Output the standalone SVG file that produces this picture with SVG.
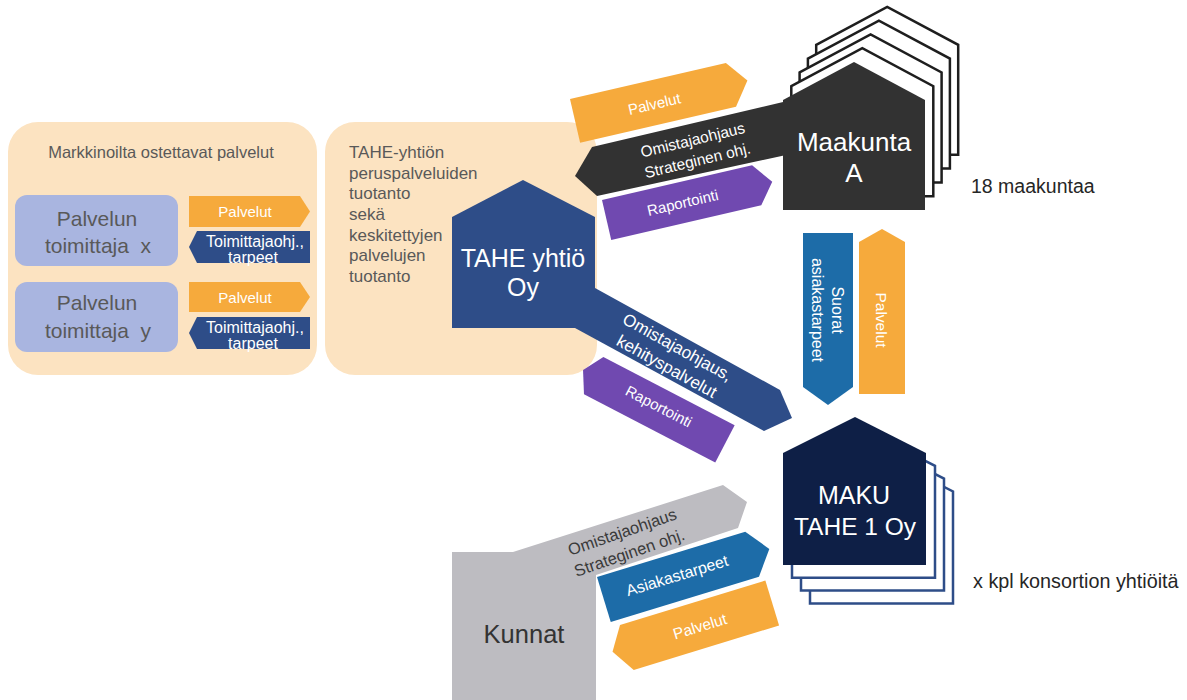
<svg xmlns="http://www.w3.org/2000/svg" width="1187" height="700" viewBox="0 0 1187 700">
<style>
text{font-family:"Liberation Sans",Arial,sans-serif;}
.peach{fill:#FCE3C1;}
.lav{fill:#A9B5E0;}
.org{fill:#F6AA3C;}
.navy{fill:#2E4D88;}
.pur{fill:#7049B0;}
.blk{fill:#323232;}
.blu{fill:#1D6CA8;}
.gry{fill:#BDBCC1;}
.dk{fill:#0E1F46;}
.w{fill:#FFFFFF;}
.g{fill:#595959;}
.mid{text-anchor:middle;}
.ol{fill:#FFFFFF;stroke:#1E1E1E;stroke-width:2.5;}
.olb{fill:#FFFFFF;stroke:#2E4D88;stroke-width:2.5;}
</style>

<g id="market-box">
<rect class="peach" x="8" y="122" width="309" height="253" rx="30"/>
<text class="g mid" x="161" y="158" font-size="16.5">Markkinoilta ostettavat palvelut</text>
</g>
<g id="supplier-x">
<rect class="lav" x="15" y="195" width="163" height="71" rx="12"/>
<text class="g mid" x="97" y="225.5" font-size="21">Palvelun</text>
<text class="g mid" x="98" y="252.5" font-size="21" xml:space="preserve">toimittaja  x</text>
</g>
<g id="supplier-y">
<rect class="lav" x="15" y="282" width="163" height="70" rx="12"/>
<text class="g mid" x="97" y="309.5" font-size="21">Palvelun</text>
<text class="g mid" x="98" y="337.5" font-size="21" xml:space="preserve">toimittaja  y</text>
</g>
<g id="tahe-box">
<rect class="peach" x="325" y="122" width="272" height="253" rx="30"/>
<g class="g" font-size="17">
<text x="349" y="158">TAHE-yhtiön</text>
<text x="349" y="179">peruspalveluiden</text>
<text x="349" y="199">tuotanto</text>
<text x="349" y="220">sekä</text>
<text x="349" y="241">keskitettyjen</text>
<text x="349" y="261">palvelujen</text>
<text x="349" y="282">tuotanto</text>
</g>
</g>

<g id="connectors">
<g id="c-palvelut-x">
<polygon class="org" points="189,196 300,196 310,211.5 300,227 189,227"/>
<text class="w mid" x="245" y="217" font-size="15">Palvelut</text>
</g>
<g id="c-toim-x">
<polygon class="navy" points="197,231 310,231 310,263 197,263 189,247"/>
<text class="w mid" x="255" y="247" font-size="16">Toimittajaohj.,</text>
<text class="w mid" x="253" y="262.5" font-size="16">tarpeet</text>
</g>
<g id="c-palvelut-y">
<polygon class="org" points="189,282 300,282 310,297 300,312 189,312"/>
<text class="w mid" x="245" y="302.5" font-size="15">Palvelut</text>
</g>
<g id="c-toim-y">
<polygon class="navy" points="197,317 310,317 310,349 197,349 189,333"/>
<text class="w mid" x="255" y="333" font-size="16">Toimittajaohj.,</text>
<text class="w mid" x="253" y="348.5" font-size="16">tarpeet</text>
</g>

<g id="c-palvelut-maakunta" transform="translate(570,99) rotate(-13)">
<polygon class="org" points="0,0 160,0 177,22 160,45 0,45"/>
<text class="w mid" x="81" y="29" font-size="15">Palvelut</text>
</g>
<g id="c-omistaja-maakunta">
<polygon class="blk" points="575,176 592,147 800,98 800,152 597,196"/>
<g transform="translate(695,150) rotate(-13.5)">
<text class="w mid" x="0" y="-5" font-size="15.5">Omistajaohjaus</text>
<text class="w mid" x="0" y="16" font-size="15.5">Strateginen ohj.</text>
</g>
</g>
<g id="c-raportointi-maakunta" transform="translate(602,200) rotate(-13)">
<polygon class="pur" points="0,0 154,0 170,20.5 154,41 0,41"/>
<text class="w mid" x="78" y="26" font-size="15">Raportointi</text>
</g>

<g id="c-omistaja-maku">
<polygon class="navy" points="595,288 780,390 792,418 764,431 575,328"/>
<g transform="translate(672,357) rotate(29)">
<text class="w mid" x="0" y="-5.5" font-size="17">Omistajaohjaus,</text>
<text class="w mid" x="0" y="16.5" font-size="17">kehityspalvelut</text>
</g>
</g>
<g id="c-raportointi-maku" transform="translate(654,407) rotate(27.5)">
<polygon class="pur" points="-68,-21 80,-21 80,21 -68,21 -80,0"/>
<text class="w mid" x="4" y="2.5" font-size="15">Raportointi</text>
</g>

<g id="c-suorat">
<polygon class="blu" points="803,233 853,233 853,387 828,405 803,387"/>
<text class="w mid" transform="translate(837,310) rotate(90)" y="5.5" font-size="16">Suorat</text>
<text class="w mid" transform="translate(817,310) rotate(90)" y="5.5" font-size="16">asiakastarpeet</text>
</g>
<g id="c-palvelut-vert">
<polygon class="org" points="859,394 905,394 905,242 882,229 859,242"/>
<text class="w mid" transform="translate(881,320) rotate(90)" y="5.5" font-size="15.5">Palvelut</text>
</g>

<g id="c-asiakastarpeet" transform="translate(597,577) rotate(-17)">
<polygon class="blu" points="0,0 155,0 173,23.5 155,47 0,47"/>
<text class="w mid" x="77" y="27.5" font-size="16">Asiakastarpeet</text>
</g>
<g id="c-palvelut-kunnat" transform="translate(620,625) rotate(-17)">
<polygon class="org" points="0,0 152,0 152,47 0,47 -15,23.5"/>
<text class="w mid" x="76" y="30" font-size="15.5">Palvelut</text>
</g>
</g>

<g id="tahe-house">
<polygon class="navy" points="452,217 523,180 595,217 595,328 452,328"/>
<text class="w mid" x="523" y="267" font-size="25">TAHE yhtiö</text>
<text class="w mid" x="523" y="296" font-size="25">Oy</text>
</g>

<g id="maakunta">
<polygon class="ol" transform="translate(33.2,-55.2)" points="783,100 854,62 925,100 925,210 783,210"/>
<polygon class="ol" transform="translate(24.9,-41.4)" points="783,100 854,62 925,100 925,210 783,210"/>
<polygon class="ol" transform="translate(16.6,-27.6)" points="783,100 854,62 925,100 925,210 783,210"/>
<polygon class="ol" transform="translate(8.3,-13.8)" points="783,100 854,62 925,100 925,210 783,210"/>
<polygon class="blk" points="783,100 854,62 925,100 925,210 783,210"/>
<text class="w mid" x="854" y="151" font-size="26">Maakunta</text>
<text class="w mid" x="854" y="182" font-size="26">A</text>
</g>

<g id="maku">
<polygon class="olb" transform="translate(27,38.4)" points="783,453 855,417 926,453 926,565 783,565"/>
<polygon class="olb" transform="translate(18,25.6)" points="783,453 855,417 926,453 926,565 783,565"/>
<polygon class="olb" transform="translate(9,12.8)" points="783,453 855,417 926,453 926,565 783,565"/>
<polygon class="dk" points="783,453 855,417 926,453 926,565 783,565"/>
<text class="w mid" x="854" y="504" font-size="25">MAKU</text>
<text class="w mid" x="855" y="535" font-size="24.5">TAHE 1 Oy</text>
</g>

<g id="kunnat">
<polygon class="gry" points="452,552 513,552 723,485 747,502 738,528 596,575 596,700 452,700"/>
<g transform="translate(626,543) rotate(-19)">
<text class="mid" fill="#3A3A3A" x="0" y="-6" font-size="16.5">Omistajaohjaus</text>
<text class="mid" fill="#3A3A3A" x="0" y="16" font-size="16.5">Strateginen ohj.</text>
</g>
<text class="mid" fill="#333333" x="524" y="643" font-size="25.5">Kunnat</text>
</g>

<g id="labels">
<text fill="#262626" x="971" y="193" font-size="19.5">18 maakuntaa</text>
<text fill="#262626" x="973" y="588" font-size="19.8">x kpl konsortion yhtiöitä</text>
</g>
</svg>
